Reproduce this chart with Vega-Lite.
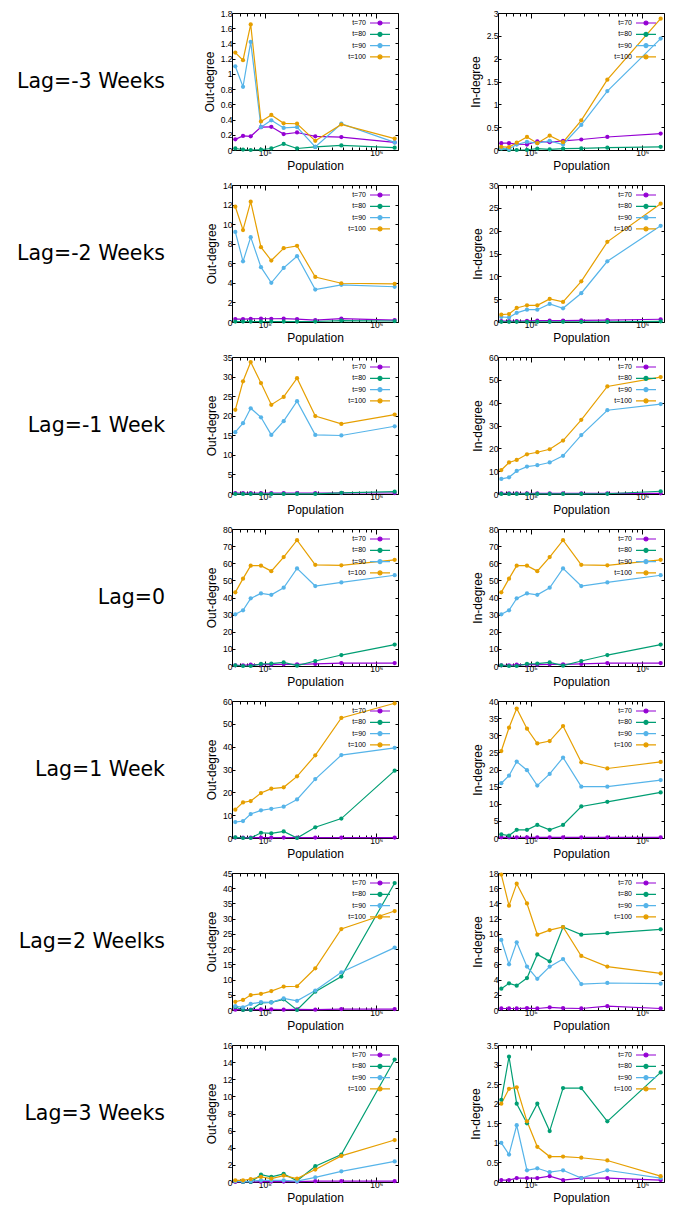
{
"$schema": "https://vega.github.io/schema/vega-lite/v6.json",
"padding": {"left": 17, "top": 8, "right": 5, "bottom": 5},
"background": "white",
"datasets": {"d": [
{"lag":"m3","side":"out","pop":54600,"t70":0.14,"t80":0.02,"t90":1.10,"t100":1.28},
{"lag":"m3","side":"out","pop":64000,"t70":0.185,"t80":0.005,"t90":0.83,"t100":1.18},
{"lag":"m3","side":"out","pop":75000,"t70":0.18,"t80":0,"t90":1.42,"t100":1.65},
{"lag":"m3","side":"out","pop":92700,"t70":0.30,"t80":0.005,"t90":0.30,"t100":0.375},
{"lag":"m3","side":"out","pop":114700,"t70":0.305,"t80":0.02,"t90":0.39,"t100":0.46},
{"lag":"m3","side":"out","pop":148000,"t70":0.21,"t80":0.08,"t90":0.29,"t100":0.35},
{"lag":"m3","side":"out","pop":195000,"t70":0.23,"t80":0.02,"t90":0.30,"t100":0.345},
{"lag":"m3","side":"out","pop":284000,"t70":0.18,"t80":0.04,"t90":0.04,"t100":0.12},
{"lag":"m3","side":"out","pop":486000,"t70":0.17,"t80":0.06,"t90":0.345,"t100":0.335},
{"lag":"m3","side":"out","pop":1459000,"t70":0.10,"t80":0.03,"t90":0.10,"t100":0.15},
{"lag":"m3","side":"in","pop":54600,"t70":0.15,"t80":0.03,"t90":0.04,"t100":0.07},
{"lag":"m3","side":"in","pop":64000,"t70":0.15,"t80":0,"t90":0.02,"t100":0.065},
{"lag":"m3","side":"in","pop":75000,"t70":0.13,"t80":0,"t90":0.12,"t100":0.16},
{"lag":"m3","side":"in","pop":92700,"t70":0.12,"t80":0.005,"t90":0.18,"t100":0.285},
{"lag":"m3","side":"in","pop":114700,"t70":0.19,"t80":0.03,"t90":0.15,"t100":0.15},
{"lag":"m3","side":"in","pop":148000,"t70":0.17,"t80":0.015,"t90":0.20,"t100":0.315},
{"lag":"m3","side":"in","pop":195000,"t70":0.20,"t80":0.03,"t90":0.12,"t100":0.17},
{"lag":"m3","side":"in","pop":284000,"t70":0.23,"t80":0.035,"t90":0.55,"t100":0.65},
{"lag":"m3","side":"in","pop":486000,"t70":0.285,"t80":0.05,"t90":1.29,"t100":1.54},
{"lag":"m3","side":"in","pop":1459000,"t70":0.36,"t80":0.07,"t90":2.44,"t100":2.875},
{"lag":"m2","side":"out","pop":54600,"t70":0.3,"t80":0.05,"t90":9.2,"t100":11.78},
{"lag":"m2","side":"out","pop":64000,"t70":0.3,"t80":0.05,"t90":6.2,"t100":9.4},
{"lag":"m2","side":"out","pop":75000,"t70":0.32,"t80":0.05,"t90":8.67,"t100":12.3},
{"lag":"m2","side":"out","pop":92700,"t70":0.35,"t80":0.05,"t90":5.6,"t100":7.65},
{"lag":"m2","side":"out","pop":114700,"t70":0.33,"t80":0.05,"t90":4.0,"t100":6.28},
{"lag":"m2","side":"out","pop":148000,"t70":0.35,"t80":0.05,"t90":5.53,"t100":7.54},
{"lag":"m2","side":"out","pop":195000,"t70":0.3,"t80":0.05,"t90":6.72,"t100":7.78},
{"lag":"m2","side":"out","pop":284000,"t70":0.2,"t80":0.05,"t90":3.31,"t100":4.6},
{"lag":"m2","side":"out","pop":486000,"t70":0.35,"t80":0.15,"t90":3.8,"t100":3.96},
{"lag":"m2","side":"out","pop":1459000,"t70":0.2,"t80":0.1,"t90":3.6,"t100":3.9},
{"lag":"m2","side":"in","pop":54600,"t70":0.2,"t80":0.05,"t90":1.1,"t100":1.6},
{"lag":"m2","side":"in","pop":64000,"t70":0.2,"t80":0.05,"t90":1.0,"t100":1.75},
{"lag":"m2","side":"in","pop":75000,"t70":0.2,"t80":0.05,"t90":2.0,"t100":3.07},
{"lag":"m2","side":"in","pop":92700,"t70":0.25,"t80":0.05,"t90":2.7,"t100":3.66},
{"lag":"m2","side":"in","pop":114700,"t70":0.3,"t80":0.05,"t90":2.7,"t100":3.66},
{"lag":"m2","side":"in","pop":148000,"t70":0.3,"t80":0.05,"t90":3.95,"t100":5.05},
{"lag":"m2","side":"in","pop":195000,"t70":0.3,"t80":0.05,"t90":3.0,"t100":4.4},
{"lag":"m2","side":"in","pop":284000,"t70":0.35,"t80":0.05,"t90":6.3,"t100":8.9},
{"lag":"m2","side":"in","pop":486000,"t70":0.4,"t80":0.05,"t90":13.3,"t100":17.56},
{"lag":"m2","side":"in","pop":1459000,"t70":0.6,"t80":0.15,"t90":21.07,"t100":25.9},
{"lag":"m1","side":"out","pop":54600,"t70":0.25,"t80":0.02,"t90":15.8,"t100":21.5},
{"lag":"m1","side":"out","pop":64000,"t70":0.25,"t80":0.02,"t90":18.1,"t100":28.8},
{"lag":"m1","side":"out","pop":75000,"t70":0.25,"t80":0.02,"t90":21.9,"t100":33.7},
{"lag":"m1","side":"out","pop":92700,"t70":0.25,"t80":0.02,"t90":19.6,"t100":28.35},
{"lag":"m1","side":"out","pop":114700,"t70":0.25,"t80":0.02,"t90":15.1,"t100":22.8},
{"lag":"m1","side":"out","pop":148000,"t70":0.25,"t80":0.02,"t90":18.6,"t100":24.8},
{"lag":"m1","side":"out","pop":195000,"t70":0.25,"t80":0.02,"t90":23.7,"t100":29.6},
{"lag":"m1","side":"out","pop":284000,"t70":0.25,"t80":0.02,"t90":15.1,"t100":19.9},
{"lag":"m1","side":"out","pop":486000,"t70":0.25,"t80":0.3,"t90":14.95,"t100":17.9},
{"lag":"m1","side":"out","pop":1459000,"t70":0.25,"t80":0.6,"t90":17.3,"t100":20.3},
{"lag":"m1","side":"in","pop":54600,"t70":0.3,"t80":0.02,"t90":6.6,"t100":10.5},
{"lag":"m1","side":"in","pop":64000,"t70":0.3,"t80":0.02,"t90":7.3,"t100":13.8},
{"lag":"m1","side":"in","pop":75000,"t70":0.3,"t80":0.02,"t90":10.1,"t100":14.9},
{"lag":"m1","side":"in","pop":92700,"t70":0.3,"t80":0.02,"t90":12.0,"t100":17.4},
{"lag":"m1","side":"in","pop":114700,"t70":0.3,"t80":0.02,"t90":12.6,"t100":18.3},
{"lag":"m1","side":"in","pop":148000,"t70":0.3,"t80":0.02,"t90":13.8,"t100":19.6},
{"lag":"m1","side":"in","pop":195000,"t70":0.3,"t80":0.02,"t90":16.7,"t100":23.4},
{"lag":"m1","side":"in","pop":284000,"t70":0.3,"t80":0.02,"t90":25.8,"t100":32.5},
{"lag":"m1","side":"in","pop":486000,"t70":0.3,"t80":0.1,"t90":36.7,"t100":47.1},
{"lag":"m1","side":"in","pop":1459000,"t70":0.3,"t80":1.2,"t90":39.4,"t100":51.2},
{"lag":"z","side":"both","pop":54600,"t70":0.4,"t80":0.4,"t90":30.2,"t100":43},
{"lag":"z","side":"both","pop":64000,"t70":0.4,"t80":0,"t90":32.5,"t100":51},
{"lag":"z","side":"both","pop":75000,"t70":0.8,"t80":0,"t90":39.5,"t100":58.6},
{"lag":"z","side":"both","pop":92700,"t70":0.8,"t80":1.2,"t90":42.4,"t100":58.6},
{"lag":"z","side":"both","pop":114700,"t70":0.8,"t80":1.4,"t90":41.6,"t100":55.4},
{"lag":"z","side":"both","pop":148000,"t70":1.0,"t80":2.1,"t90":45.7,"t100":63.6},
{"lag":"z","side":"both","pop":195000,"t70":1.0,"t80":0.2,"t90":57,"t100":73.5},
{"lag":"z","side":"both","pop":284000,"t70":1.2,"t80":2.9,"t90":46.7,"t100":59.1},
{"lag":"z","side":"both","pop":486000,"t70":1.7,"t80":6.4,"t90":48.8,"t100":58.8},
{"lag":"z","side":"both","pop":1459000,"t70":1.7,"t80":12.5,"t90":53,"t100":62},
{"lag":"p1","side":"out","pop":54600,"t70":0.2,"t80":0.3,"t90":7,"t100":12.4},
{"lag":"p1","side":"out","pop":64000,"t70":0.2,"t80":0,"t90":7.4,"t100":15.6},
{"lag":"p1","side":"out","pop":75000,"t70":0.2,"t80":0,"t90":10.5,"t100":16.2},
{"lag":"p1","side":"out","pop":92700,"t70":0.2,"t80":2.3,"t90":12.1,"t100":19.7},
{"lag":"p1","side":"out","pop":114700,"t70":0.2,"t80":2.0,"t90":12.8,"t100":21.6},
{"lag":"p1","side":"out","pop":148000,"t70":0.2,"t80":2.9,"t90":13.7,"t100":22.2},
{"lag":"p1","side":"out","pop":195000,"t70":0.2,"t80":0,"t90":16.9,"t100":27},
{"lag":"p1","side":"out","pop":284000,"t70":0.2,"t80":4.7,"t90":25.8,"t100":36.2},
{"lag":"p1","side":"out","pop":486000,"t70":0.2,"t80":8.5,"t90":36.3,"t100":52.6},
{"lag":"p1","side":"out","pop":1459000,"t70":0.2,"t80":29.5,"t90":39.5,"t100":59},
{"lag":"p1","side":"in","pop":54600,"t70":0.2,"t80":1.06,"t90":16,"t100":25.4},
{"lag":"p1","side":"in","pop":64000,"t70":0.2,"t80":0.7,"t90":18.2,"t100":32.2},
{"lag":"p1","side":"in","pop":75000,"t70":0.2,"t80":2.4,"t90":22.3,"t100":37.8},
{"lag":"p1","side":"in","pop":92700,"t70":0.2,"t80":2.4,"t90":19.8,"t100":31.9},
{"lag":"p1","side":"in","pop":114700,"t70":0.2,"t80":3.8,"t90":15.3,"t100":27.6},
{"lag":"p1","side":"in","pop":148000,"t70":0.2,"t80":2.4,"t90":18.7,"t100":28.3},
{"lag":"p1","side":"in","pop":195000,"t70":0.2,"t80":3.8,"t90":23.5,"t100":32.7},
{"lag":"p1","side":"in","pop":284000,"t70":0.2,"t80":9.2,"t90":15,"t100":22.1},
{"lag":"p1","side":"in","pop":486000,"t70":0.2,"t80":10.55,"t90":15,"t100":20.3},
{"lag":"p1","side":"in","pop":1459000,"t70":0.2,"t80":13.3,"t90":16.9,"t100":22.2},
{"lag":"p2","side":"out","pop":54600,"t70":0.1,"t80":1.0,"t90":1.3,"t100":2.7},
{"lag":"p2","side":"out","pop":64000,"t70":0.1,"t80":0,"t90":0.9,"t100":3.3},
{"lag":"p2","side":"out","pop":75000,"t70":0.1,"t80":0,"t90":2.0,"t100":4.9},
{"lag":"p2","side":"out","pop":92700,"t70":0.2,"t80":2.3,"t90":2.6,"t100":5.3},
{"lag":"p2","side":"out","pop":114700,"t70":0.2,"t80":2.5,"t90":2.5,"t100":6.2},
{"lag":"p2","side":"out","pop":148000,"t70":0.1,"t80":3.5,"t90":3.8,"t100":7.7},
{"lag":"p2","side":"out","pop":195000,"t70":0.2,"t80":0,"t90":3.0,"t100":7.8},
{"lag":"p2","side":"out","pop":284000,"t70":0.1,"t80":6.0,"t90":6.4,"t100":13.7},
{"lag":"p2","side":"out","pop":486000,"t70":0.3,"t80":11,"t90":12.4,"t100":26.6},
{"lag":"p2","side":"out","pop":1459000,"t70":0.3,"t80":41.7,"t90":20.5,"t100":32.5},
{"lag":"p2","side":"in","pop":54600,"t70":0.2,"t80":2.8,"t90":9.2,"t100":17.8},
{"lag":"p2","side":"in","pop":64000,"t70":0.2,"t80":3.5,"t90":6.0,"t100":13.7},
{"lag":"p2","side":"in","pop":75000,"t70":0.2,"t80":3.2,"t90":8.9,"t100":16.6},
{"lag":"p2","side":"in","pop":92700,"t70":0.25,"t80":4.2,"t90":5.7,"t100":14.0},
{"lag":"p2","side":"in","pop":114700,"t70":0.2,"t80":7.3,"t90":4.1,"t100":9.9},
{"lag":"p2","side":"in","pop":148000,"t70":0.35,"t80":6.4,"t90":5.7,"t100":10.5},
{"lag":"p2","side":"in","pop":195000,"t70":0.25,"t80":10.9,"t90":6.7,"t100":10.9},
{"lag":"p2","side":"in","pop":284000,"t70":0.2,"t80":9.9,"t90":3.4,"t100":7.1},
{"lag":"p2","side":"in","pop":486000,"t70":0.5,"t80":10.1,"t90":3.55,"t100":5.7},
{"lag":"p2","side":"in","pop":1459000,"t70":0.2,"t80":10.6,"t90":3.46,"t100":4.8},
{"lag":"p3","side":"out","pop":54600,"t70":0,"t80":0.1,"t90":0.1,"t100":0.2},
{"lag":"p3","side":"out","pop":64000,"t70":0,"t80":0,"t90":0.05,"t100":0.2},
{"lag":"p3","side":"out","pop":75000,"t70":0,"t80":0,"t90":0.1,"t100":0.35},
{"lag":"p3","side":"out","pop":92700,"t70":0.05,"t80":0.85,"t90":0.2,"t100":0.6},
{"lag":"p3","side":"out","pop":114700,"t70":0.05,"t80":0.6,"t90":0.2,"t100":0.4},
{"lag":"p3","side":"out","pop":148000,"t70":0.05,"t80":0.95,"t90":0.2,"t100":0.75},
{"lag":"p3","side":"out","pop":195000,"t70":0.05,"t80":0.15,"t90":0.1,"t100":0.4},
{"lag":"p3","side":"out","pop":284000,"t70":0.1,"t80":1.85,"t90":0.55,"t100":1.45},
{"lag":"p3","side":"out","pop":486000,"t70":0.1,"t80":3.2,"t90":1.25,"t100":3.05},
{"lag":"p3","side":"out","pop":1459000,"t70":0.1,"t80":14.3,"t90":2.4,"t100":4.9},
{"lag":"p3","side":"in","pop":54600,"t70":0.05,"t80":2.1,"t90":1.0,"t100":2.0},
{"lag":"p3","side":"in","pop":64000,"t70":0.05,"t80":3.2,"t90":0.7,"t100":2.38},
{"lag":"p3","side":"in","pop":75000,"t70":0.1,"t80":2.0,"t90":1.45,"t100":2.42},
{"lag":"p3","side":"in","pop":92700,"t70":0.1,"t80":1.5,"t90":0.3,"t100":1.55},
{"lag":"p3","side":"in","pop":114700,"t70":0.1,"t80":2.0,"t90":0.35,"t100":0.9},
{"lag":"p3","side":"in","pop":148000,"t70":0.15,"t80":1.3,"t90":0.25,"t100":0.65},
{"lag":"p3","side":"in","pop":195000,"t70":0.05,"t80":2.4,"t90":0.3,"t100":0.65},
{"lag":"p3","side":"in","pop":284000,"t70":0.1,"t80":2.4,"t90":0.1,"t100":0.62},
{"lag":"p3","side":"in","pop":486000,"t70":0.1,"t80":1.55,"t90":0.3,"t100":0.55},
{"lag":"p3","side":"in","pop":1459000,"t70":0.05,"t80":2.8,"t90":0.1,"t100":0.15}
]},
"data": {"name": "d"},
"spacing": 172,
"bounds": "flush",
"resolve": {"legend": {"color": "independent"}},
"vconcat": [
{"spacing": 0, "bounds": "flush", "resolve": {"legend": {"color": "independent"}}, "hconcat": [
 {"width":134,"height":137,"view":{"stroke":null},"data":{"values":[{"label":"Lag=-3 Weeks"}]},"mark":{"type":"text","align":"right","baseline":"middle","font":"DejaVu Sans","fontSize":20.5,"color":"black"},"encoding":{"text":{"field":"label"}}},
 {"spacing": 100, "bounds": "flush", "resolve": {"legend": {"color": "independent"}}, "hconcat": [
 {"width":166,"height":137,"transform":[{"filter":"datum.lag=='m3' && datum.side=='out'"},{"fold":["t70","t80","t90","t100"],"as":["t","v"]}],
  "encoding":{"color":{"field":"t","type":"nominal","scale":{"domain":["t70","t80","t90","t100"],"range":["#9400d3","#009e73","#56b4e9","#e69f00"]},"legend":{"title":null,"labelExpr":"'t=' + slice(datum.label,1)"}}},
  "resolve":{"axis":{"x":"independent","y":"independent"}},
  "layer":[
   {"mark":{"type":"line","strokeWidth":1.2},"encoding":{"x":{"field":"pop","type":"quantitative","title":"Population","scale":{"type":"log","domain":[51000,1563000]},"axis":{"values":[60000,70000,80000,90000,100000,200000,300000,400000,500000,600000,700000,800000,900000,1000000],"labelExpr":"datum.value==100000?'10⁵':(datum.value==1000000?'10⁶':'')","tickSize":{"condition":{"test":"datum.value==100000||datum.value==1000000","value":-5},"value":-3}}},"y":{"field":"v","type":"quantitative","title":"Out-degree","scale":{"domain":[0,1.8],"nice":false},"axis":{"values":[0,0.2,0.4,0.6,0.8,1,1.2,1.4,1.6,1.8]}}}},
   {"mark":{"type":"point","filled":true,"size":18,"opacity":1},"encoding":{"x":{"field":"pop","type":"quantitative","title":null,"scale":{"type":"log","domain":[51000,1563000]},"axis":{"orient":"top","labels":false,"values":[60000,70000,80000,90000,100000,200000,300000,400000,500000,600000,700000,800000,900000,1000000],"tickSize":{"condition":{"test":"datum.value==100000||datum.value==1000000","value":-5},"value":-3}}},"y":{"field":"v","type":"quantitative","title":null,"scale":{"domain":[0,1.8],"nice":false},"axis":{"orient":"right","labels":false,"values":[0,0.2,0.4,0.6,0.8,1,1.2,1.4,1.6,1.8]}}}}
  ]},
 {"width":166,"height":137,"transform":[{"filter":"datum.lag=='m3' && datum.side=='in'"},{"fold":["t70","t80","t90","t100"],"as":["t","v"]}],
  "encoding":{"color":{"field":"t","type":"nominal","scale":{"domain":["t70","t80","t90","t100"],"range":["#9400d3","#009e73","#56b4e9","#e69f00"]},"legend":{"title":null,"labelExpr":"'t=' + slice(datum.label,1)"}}},
  "resolve":{"axis":{"x":"independent","y":"independent"}},
  "layer":[
   {"mark":{"type":"line","strokeWidth":1.2},"encoding":{"x":{"field":"pop","type":"quantitative","title":"Population","scale":{"type":"log","domain":[51000,1563000]},"axis":{"values":[60000,70000,80000,90000,100000,200000,300000,400000,500000,600000,700000,800000,900000,1000000],"labelExpr":"datum.value==100000?'10⁵':(datum.value==1000000?'10⁶':'')","tickSize":{"condition":{"test":"datum.value==100000||datum.value==1000000","value":-5},"value":-3}}},"y":{"field":"v","type":"quantitative","title":"In-degree","scale":{"domain":[0,3],"nice":false},"axis":{"values":[0,0.5,1,1.5,2,2.5,3]}}}},
   {"mark":{"type":"point","filled":true,"size":18,"opacity":1},"encoding":{"x":{"field":"pop","type":"quantitative","title":null,"scale":{"type":"log","domain":[51000,1563000]},"axis":{"orient":"top","labels":false,"values":[60000,70000,80000,90000,100000,200000,300000,400000,500000,600000,700000,800000,900000,1000000],"tickSize":{"condition":{"test":"datum.value==100000||datum.value==1000000","value":-5},"value":-3}}},"y":{"field":"v","type":"quantitative","title":null,"scale":{"domain":[0,3],"nice":false},"axis":{"orient":"right","labels":false,"values":[0,0.5,1,1.5,2,2.5,3]}}}}
  ]}
 ]}
]},
{"spacing": 0, "bounds": "flush", "resolve": {"legend": {"color": "independent"}}, "hconcat": [
 {"width":134,"height":137,"view":{"stroke":null},"data":{"values":[{"label":"Lag=-2 Weeks"}]},"mark":{"type":"text","align":"right","baseline":"middle","font":"DejaVu Sans","fontSize":20.5,"color":"black"},"encoding":{"text":{"field":"label"}}},
 {"spacing": 100, "bounds": "flush", "resolve": {"legend": {"color": "independent"}}, "hconcat": [
 {"width":166,"height":137,"transform":[{"filter":"datum.lag=='m2' && datum.side=='out'"},{"fold":["t70","t80","t90","t100"],"as":["t","v"]}],
  "encoding":{"color":{"field":"t","type":"nominal","scale":{"domain":["t70","t80","t90","t100"],"range":["#9400d3","#009e73","#56b4e9","#e69f00"]},"legend":{"title":null,"labelExpr":"'t=' + slice(datum.label,1)"}}},
  "resolve":{"axis":{"x":"independent","y":"independent"}},
  "layer":[
   {"mark":{"type":"line","strokeWidth":1.2},"encoding":{"x":{"field":"pop","type":"quantitative","title":"Population","scale":{"type":"log","domain":[51000,1563000]},"axis":{"values":[60000,70000,80000,90000,100000,200000,300000,400000,500000,600000,700000,800000,900000,1000000],"labelExpr":"datum.value==100000?'10⁵':(datum.value==1000000?'10⁶':'')","tickSize":{"condition":{"test":"datum.value==100000||datum.value==1000000","value":-5},"value":-3}}},"y":{"field":"v","type":"quantitative","title":"Out-degree","scale":{"domain":[0,14],"nice":false},"axis":{"values":[0,2,4,6,8,10,12,14]}}}},
   {"mark":{"type":"point","filled":true,"size":18,"opacity":1},"encoding":{"x":{"field":"pop","type":"quantitative","title":null,"scale":{"type":"log","domain":[51000,1563000]},"axis":{"orient":"top","labels":false,"values":[60000,70000,80000,90000,100000,200000,300000,400000,500000,600000,700000,800000,900000,1000000],"tickSize":{"condition":{"test":"datum.value==100000||datum.value==1000000","value":-5},"value":-3}}},"y":{"field":"v","type":"quantitative","title":null,"scale":{"domain":[0,14],"nice":false},"axis":{"orient":"right","labels":false,"values":[0,2,4,6,8,10,12,14]}}}}
  ]},
 {"width":166,"height":137,"transform":[{"filter":"datum.lag=='m2' && datum.side=='in'"},{"fold":["t70","t80","t90","t100"],"as":["t","v"]}],
  "encoding":{"color":{"field":"t","type":"nominal","scale":{"domain":["t70","t80","t90","t100"],"range":["#9400d3","#009e73","#56b4e9","#e69f00"]},"legend":{"title":null,"labelExpr":"'t=' + slice(datum.label,1)"}}},
  "resolve":{"axis":{"x":"independent","y":"independent"}},
  "layer":[
   {"mark":{"type":"line","strokeWidth":1.2},"encoding":{"x":{"field":"pop","type":"quantitative","title":"Population","scale":{"type":"log","domain":[51000,1563000]},"axis":{"values":[60000,70000,80000,90000,100000,200000,300000,400000,500000,600000,700000,800000,900000,1000000],"labelExpr":"datum.value==100000?'10⁵':(datum.value==1000000?'10⁶':'')","tickSize":{"condition":{"test":"datum.value==100000||datum.value==1000000","value":-5},"value":-3}}},"y":{"field":"v","type":"quantitative","title":"In-degree","scale":{"domain":[0,30],"nice":false},"axis":{"values":[0,5,10,15,20,25,30]}}}},
   {"mark":{"type":"point","filled":true,"size":18,"opacity":1},"encoding":{"x":{"field":"pop","type":"quantitative","title":null,"scale":{"type":"log","domain":[51000,1563000]},"axis":{"orient":"top","labels":false,"values":[60000,70000,80000,90000,100000,200000,300000,400000,500000,600000,700000,800000,900000,1000000],"tickSize":{"condition":{"test":"datum.value==100000||datum.value==1000000","value":-5},"value":-3}}},"y":{"field":"v","type":"quantitative","title":null,"scale":{"domain":[0,30],"nice":false},"axis":{"orient":"right","labels":false,"values":[0,5,10,15,20,25,30]}}}}
  ]}
 ]}
]},
{"spacing": 0, "bounds": "flush", "resolve": {"legend": {"color": "independent"}}, "hconcat": [
 {"width":134,"height":137,"view":{"stroke":null},"data":{"values":[{"label":"Lag=-1 Week"}]},"mark":{"type":"text","align":"right","baseline":"middle","font":"DejaVu Sans","fontSize":20.5,"color":"black"},"encoding":{"text":{"field":"label"}}},
 {"spacing": 100, "bounds": "flush", "resolve": {"legend": {"color": "independent"}}, "hconcat": [
 {"width":166,"height":137,"transform":[{"filter":"datum.lag=='m1' && datum.side=='out'"},{"fold":["t70","t80","t90","t100"],"as":["t","v"]}],
  "encoding":{"color":{"field":"t","type":"nominal","scale":{"domain":["t70","t80","t90","t100"],"range":["#9400d3","#009e73","#56b4e9","#e69f00"]},"legend":{"title":null,"labelExpr":"'t=' + slice(datum.label,1)"}}},
  "resolve":{"axis":{"x":"independent","y":"independent"}},
  "layer":[
   {"mark":{"type":"line","strokeWidth":1.2},"encoding":{"x":{"field":"pop","type":"quantitative","title":"Population","scale":{"type":"log","domain":[51000,1563000]},"axis":{"values":[60000,70000,80000,90000,100000,200000,300000,400000,500000,600000,700000,800000,900000,1000000],"labelExpr":"datum.value==100000?'10⁵':(datum.value==1000000?'10⁶':'')","tickSize":{"condition":{"test":"datum.value==100000||datum.value==1000000","value":-5},"value":-3}}},"y":{"field":"v","type":"quantitative","title":"Out-degree","scale":{"domain":[0,35],"nice":false},"axis":{"values":[0,5,10,15,20,25,30,35]}}}},
   {"mark":{"type":"point","filled":true,"size":18,"opacity":1},"encoding":{"x":{"field":"pop","type":"quantitative","title":null,"scale":{"type":"log","domain":[51000,1563000]},"axis":{"orient":"top","labels":false,"values":[60000,70000,80000,90000,100000,200000,300000,400000,500000,600000,700000,800000,900000,1000000],"tickSize":{"condition":{"test":"datum.value==100000||datum.value==1000000","value":-5},"value":-3}}},"y":{"field":"v","type":"quantitative","title":null,"scale":{"domain":[0,35],"nice":false},"axis":{"orient":"right","labels":false,"values":[0,5,10,15,20,25,30,35]}}}}
  ]},
 {"width":166,"height":137,"transform":[{"filter":"datum.lag=='m1' && datum.side=='in'"},{"fold":["t70","t80","t90","t100"],"as":["t","v"]}],
  "encoding":{"color":{"field":"t","type":"nominal","scale":{"domain":["t70","t80","t90","t100"],"range":["#9400d3","#009e73","#56b4e9","#e69f00"]},"legend":{"title":null,"labelExpr":"'t=' + slice(datum.label,1)"}}},
  "resolve":{"axis":{"x":"independent","y":"independent"}},
  "layer":[
   {"mark":{"type":"line","strokeWidth":1.2},"encoding":{"x":{"field":"pop","type":"quantitative","title":"Population","scale":{"type":"log","domain":[51000,1563000]},"axis":{"values":[60000,70000,80000,90000,100000,200000,300000,400000,500000,600000,700000,800000,900000,1000000],"labelExpr":"datum.value==100000?'10⁵':(datum.value==1000000?'10⁶':'')","tickSize":{"condition":{"test":"datum.value==100000||datum.value==1000000","value":-5},"value":-3}}},"y":{"field":"v","type":"quantitative","title":"In-degree","scale":{"domain":[0,60],"nice":false},"axis":{"values":[0,10,20,30,40,50,60]}}}},
   {"mark":{"type":"point","filled":true,"size":18,"opacity":1},"encoding":{"x":{"field":"pop","type":"quantitative","title":null,"scale":{"type":"log","domain":[51000,1563000]},"axis":{"orient":"top","labels":false,"values":[60000,70000,80000,90000,100000,200000,300000,400000,500000,600000,700000,800000,900000,1000000],"tickSize":{"condition":{"test":"datum.value==100000||datum.value==1000000","value":-5},"value":-3}}},"y":{"field":"v","type":"quantitative","title":null,"scale":{"domain":[0,60],"nice":false},"axis":{"orient":"right","labels":false,"values":[0,10,20,30,40,50,60]}}}}
  ]}
 ]}
]},
{"spacing": 0, "bounds": "flush", "resolve": {"legend": {"color": "independent"}}, "hconcat": [
 {"width":134,"height":137,"view":{"stroke":null},"data":{"values":[{"label":"Lag=0"}]},"mark":{"type":"text","align":"right","baseline":"middle","font":"DejaVu Sans","fontSize":20.5,"color":"black"},"encoding":{"text":{"field":"label"}}},
 {"spacing": 100, "bounds": "flush", "resolve": {"legend": {"color": "independent"}}, "hconcat": [
 {"width":166,"height":137,"transform":[{"filter":"datum.lag=='z'"},{"fold":["t70","t80","t90","t100"],"as":["t","v"]}],
  "encoding":{"color":{"field":"t","type":"nominal","scale":{"domain":["t70","t80","t90","t100"],"range":["#9400d3","#009e73","#56b4e9","#e69f00"]},"legend":{"title":null,"labelExpr":"'t=' + slice(datum.label,1)"}}},
  "resolve":{"axis":{"x":"independent","y":"independent"}},
  "layer":[
   {"mark":{"type":"line","strokeWidth":1.2},"encoding":{"x":{"field":"pop","type":"quantitative","title":"Population","scale":{"type":"log","domain":[51000,1563000]},"axis":{"values":[60000,70000,80000,90000,100000,200000,300000,400000,500000,600000,700000,800000,900000,1000000],"labelExpr":"datum.value==100000?'10⁵':(datum.value==1000000?'10⁶':'')","tickSize":{"condition":{"test":"datum.value==100000||datum.value==1000000","value":-5},"value":-3}}},"y":{"field":"v","type":"quantitative","title":"Out-degree","scale":{"domain":[0,80],"nice":false},"axis":{"values":[0,10,20,30,40,50,60,70,80]}}}},
   {"mark":{"type":"point","filled":true,"size":18,"opacity":1},"encoding":{"x":{"field":"pop","type":"quantitative","title":null,"scale":{"type":"log","domain":[51000,1563000]},"axis":{"orient":"top","labels":false,"values":[60000,70000,80000,90000,100000,200000,300000,400000,500000,600000,700000,800000,900000,1000000],"tickSize":{"condition":{"test":"datum.value==100000||datum.value==1000000","value":-5},"value":-3}}},"y":{"field":"v","type":"quantitative","title":null,"scale":{"domain":[0,80],"nice":false},"axis":{"orient":"right","labels":false,"values":[0,10,20,30,40,50,60,70,80]}}}}
  ]},
 {"width":166,"height":137,"transform":[{"filter":"datum.lag=='z'"},{"fold":["t70","t80","t90","t100"],"as":["t","v"]}],
  "encoding":{"color":{"field":"t","type":"nominal","scale":{"domain":["t70","t80","t90","t100"],"range":["#9400d3","#009e73","#56b4e9","#e69f00"]},"legend":{"title":null,"labelExpr":"'t=' + slice(datum.label,1)"}}},
  "resolve":{"axis":{"x":"independent","y":"independent"}},
  "layer":[
   {"mark":{"type":"line","strokeWidth":1.2},"encoding":{"x":{"field":"pop","type":"quantitative","title":"Population","scale":{"type":"log","domain":[51000,1563000]},"axis":{"values":[60000,70000,80000,90000,100000,200000,300000,400000,500000,600000,700000,800000,900000,1000000],"labelExpr":"datum.value==100000?'10⁵':(datum.value==1000000?'10⁶':'')","tickSize":{"condition":{"test":"datum.value==100000||datum.value==1000000","value":-5},"value":-3}}},"y":{"field":"v","type":"quantitative","title":"In-degree","scale":{"domain":[0,80],"nice":false},"axis":{"values":[0,10,20,30,40,50,60,70,80]}}}},
   {"mark":{"type":"point","filled":true,"size":18,"opacity":1},"encoding":{"x":{"field":"pop","type":"quantitative","title":null,"scale":{"type":"log","domain":[51000,1563000]},"axis":{"orient":"top","labels":false,"values":[60000,70000,80000,90000,100000,200000,300000,400000,500000,600000,700000,800000,900000,1000000],"tickSize":{"condition":{"test":"datum.value==100000||datum.value==1000000","value":-5},"value":-3}}},"y":{"field":"v","type":"quantitative","title":null,"scale":{"domain":[0,80],"nice":false},"axis":{"orient":"right","labels":false,"values":[0,10,20,30,40,50,60,70,80]}}}}
  ]}
 ]}
]},
{"spacing": 0, "bounds": "flush", "resolve": {"legend": {"color": "independent"}}, "hconcat": [
 {"width":134,"height":137,"view":{"stroke":null},"data":{"values":[{"label":"Lag=1 Week"}]},"mark":{"type":"text","align":"right","baseline":"middle","font":"DejaVu Sans","fontSize":20.5,"color":"black"},"encoding":{"text":{"field":"label"}}},
 {"spacing": 100, "bounds": "flush", "resolve": {"legend": {"color": "independent"}}, "hconcat": [
 {"width":166,"height":137,"transform":[{"filter":"datum.lag=='p1' && datum.side=='out'"},{"fold":["t70","t80","t90","t100"],"as":["t","v"]}],
  "encoding":{"color":{"field":"t","type":"nominal","scale":{"domain":["t70","t80","t90","t100"],"range":["#9400d3","#009e73","#56b4e9","#e69f00"]},"legend":{"title":null,"labelExpr":"'t=' + slice(datum.label,1)"}}},
  "resolve":{"axis":{"x":"independent","y":"independent"}},
  "layer":[
   {"mark":{"type":"line","strokeWidth":1.2},"encoding":{"x":{"field":"pop","type":"quantitative","title":"Population","scale":{"type":"log","domain":[51000,1563000]},"axis":{"values":[60000,70000,80000,90000,100000,200000,300000,400000,500000,600000,700000,800000,900000,1000000],"labelExpr":"datum.value==100000?'10⁵':(datum.value==1000000?'10⁶':'')","tickSize":{"condition":{"test":"datum.value==100000||datum.value==1000000","value":-5},"value":-3}}},"y":{"field":"v","type":"quantitative","title":"Out-degree","scale":{"domain":[0,60],"nice":false},"axis":{"values":[0,10,20,30,40,50,60]}}}},
   {"mark":{"type":"point","filled":true,"size":18,"opacity":1},"encoding":{"x":{"field":"pop","type":"quantitative","title":null,"scale":{"type":"log","domain":[51000,1563000]},"axis":{"orient":"top","labels":false,"values":[60000,70000,80000,90000,100000,200000,300000,400000,500000,600000,700000,800000,900000,1000000],"tickSize":{"condition":{"test":"datum.value==100000||datum.value==1000000","value":-5},"value":-3}}},"y":{"field":"v","type":"quantitative","title":null,"scale":{"domain":[0,60],"nice":false},"axis":{"orient":"right","labels":false,"values":[0,10,20,30,40,50,60]}}}}
  ]},
 {"width":166,"height":137,"transform":[{"filter":"datum.lag=='p1' && datum.side=='in'"},{"fold":["t70","t80","t90","t100"],"as":["t","v"]}],
  "encoding":{"color":{"field":"t","type":"nominal","scale":{"domain":["t70","t80","t90","t100"],"range":["#9400d3","#009e73","#56b4e9","#e69f00"]},"legend":{"title":null,"labelExpr":"'t=' + slice(datum.label,1)"}}},
  "resolve":{"axis":{"x":"independent","y":"independent"}},
  "layer":[
   {"mark":{"type":"line","strokeWidth":1.2},"encoding":{"x":{"field":"pop","type":"quantitative","title":"Population","scale":{"type":"log","domain":[51000,1563000]},"axis":{"values":[60000,70000,80000,90000,100000,200000,300000,400000,500000,600000,700000,800000,900000,1000000],"labelExpr":"datum.value==100000?'10⁵':(datum.value==1000000?'10⁶':'')","tickSize":{"condition":{"test":"datum.value==100000||datum.value==1000000","value":-5},"value":-3}}},"y":{"field":"v","type":"quantitative","title":"In-degree","scale":{"domain":[0,40],"nice":false},"axis":{"values":[0,5,10,15,20,25,30,35,40]}}}},
   {"mark":{"type":"point","filled":true,"size":18,"opacity":1},"encoding":{"x":{"field":"pop","type":"quantitative","title":null,"scale":{"type":"log","domain":[51000,1563000]},"axis":{"orient":"top","labels":false,"values":[60000,70000,80000,90000,100000,200000,300000,400000,500000,600000,700000,800000,900000,1000000],"tickSize":{"condition":{"test":"datum.value==100000||datum.value==1000000","value":-5},"value":-3}}},"y":{"field":"v","type":"quantitative","title":null,"scale":{"domain":[0,40],"nice":false},"axis":{"orient":"right","labels":false,"values":[0,5,10,15,20,25,30,35,40]}}}}
  ]}
 ]}
]},
{"spacing": 0, "bounds": "flush", "resolve": {"legend": {"color": "independent"}}, "hconcat": [
 {"width":134,"height":137,"view":{"stroke":null},"data":{"values":[{"label":"Lag=2 Weelks"}]},"mark":{"type":"text","align":"right","baseline":"middle","font":"DejaVu Sans","fontSize":20.5,"color":"black"},"encoding":{"text":{"field":"label"}}},
 {"spacing": 100, "bounds": "flush", "resolve": {"legend": {"color": "independent"}}, "hconcat": [
 {"width":166,"height":137,"transform":[{"filter":"datum.lag=='p2' && datum.side=='out'"},{"fold":["t70","t80","t90","t100"],"as":["t","v"]}],
  "encoding":{"color":{"field":"t","type":"nominal","scale":{"domain":["t70","t80","t90","t100"],"range":["#9400d3","#009e73","#56b4e9","#e69f00"]},"legend":{"title":null,"labelExpr":"'t=' + slice(datum.label,1)"}}},
  "resolve":{"axis":{"x":"independent","y":"independent"}},
  "layer":[
   {"mark":{"type":"line","strokeWidth":1.2},"encoding":{"x":{"field":"pop","type":"quantitative","title":"Population","scale":{"type":"log","domain":[51000,1563000]},"axis":{"values":[60000,70000,80000,90000,100000,200000,300000,400000,500000,600000,700000,800000,900000,1000000],"labelExpr":"datum.value==100000?'10⁵':(datum.value==1000000?'10⁶':'')","tickSize":{"condition":{"test":"datum.value==100000||datum.value==1000000","value":-5},"value":-3}}},"y":{"field":"v","type":"quantitative","title":"Out-degree","scale":{"domain":[0,45],"nice":false},"axis":{"values":[0,5,10,15,20,25,30,35,40,45]}}}},
   {"mark":{"type":"point","filled":true,"size":18,"opacity":1},"encoding":{"x":{"field":"pop","type":"quantitative","title":null,"scale":{"type":"log","domain":[51000,1563000]},"axis":{"orient":"top","labels":false,"values":[60000,70000,80000,90000,100000,200000,300000,400000,500000,600000,700000,800000,900000,1000000],"tickSize":{"condition":{"test":"datum.value==100000||datum.value==1000000","value":-5},"value":-3}}},"y":{"field":"v","type":"quantitative","title":null,"scale":{"domain":[0,45],"nice":false},"axis":{"orient":"right","labels":false,"values":[0,5,10,15,20,25,30,35,40,45]}}}}
  ]},
 {"width":166,"height":137,"transform":[{"filter":"datum.lag=='p2' && datum.side=='in'"},{"fold":["t70","t80","t90","t100"],"as":["t","v"]}],
  "encoding":{"color":{"field":"t","type":"nominal","scale":{"domain":["t70","t80","t90","t100"],"range":["#9400d3","#009e73","#56b4e9","#e69f00"]},"legend":{"title":null,"labelExpr":"'t=' + slice(datum.label,1)"}}},
  "resolve":{"axis":{"x":"independent","y":"independent"}},
  "layer":[
   {"mark":{"type":"line","strokeWidth":1.2},"encoding":{"x":{"field":"pop","type":"quantitative","title":"Population","scale":{"type":"log","domain":[51000,1563000]},"axis":{"values":[60000,70000,80000,90000,100000,200000,300000,400000,500000,600000,700000,800000,900000,1000000],"labelExpr":"datum.value==100000?'10⁵':(datum.value==1000000?'10⁶':'')","tickSize":{"condition":{"test":"datum.value==100000||datum.value==1000000","value":-5},"value":-3}}},"y":{"field":"v","type":"quantitative","title":"In-degree","scale":{"domain":[0,18],"nice":false},"axis":{"values":[0,2,4,6,8,10,12,14,16,18]}}}},
   {"mark":{"type":"point","filled":true,"size":18,"opacity":1},"encoding":{"x":{"field":"pop","type":"quantitative","title":null,"scale":{"type":"log","domain":[51000,1563000]},"axis":{"orient":"top","labels":false,"values":[60000,70000,80000,90000,100000,200000,300000,400000,500000,600000,700000,800000,900000,1000000],"tickSize":{"condition":{"test":"datum.value==100000||datum.value==1000000","value":-5},"value":-3}}},"y":{"field":"v","type":"quantitative","title":null,"scale":{"domain":[0,18],"nice":false},"axis":{"orient":"right","labels":false,"values":[0,2,4,6,8,10,12,14,16,18]}}}}
  ]}
 ]}
]},
{"spacing": 0, "bounds": "flush", "resolve": {"legend": {"color": "independent"}}, "hconcat": [
 {"width":134,"height":137,"view":{"stroke":null},"data":{"values":[{"label":"Lag=3 Weeks"}]},"mark":{"type":"text","align":"right","baseline":"middle","font":"DejaVu Sans","fontSize":20.5,"color":"black"},"encoding":{"text":{"field":"label"}}},
 {"spacing": 100, "bounds": "flush", "resolve": {"legend": {"color": "independent"}}, "hconcat": [
 {"width":166,"height":137,"transform":[{"filter":"datum.lag=='p3' && datum.side=='out'"},{"fold":["t70","t80","t90","t100"],"as":["t","v"]}],
  "encoding":{"color":{"field":"t","type":"nominal","scale":{"domain":["t70","t80","t90","t100"],"range":["#9400d3","#009e73","#56b4e9","#e69f00"]},"legend":{"title":null,"labelExpr":"'t=' + slice(datum.label,1)"}}},
  "resolve":{"axis":{"x":"independent","y":"independent"}},
  "layer":[
   {"mark":{"type":"line","strokeWidth":1.2},"encoding":{"x":{"field":"pop","type":"quantitative","title":"Population","scale":{"type":"log","domain":[51000,1563000]},"axis":{"values":[60000,70000,80000,90000,100000,200000,300000,400000,500000,600000,700000,800000,900000,1000000],"labelExpr":"datum.value==100000?'10⁵':(datum.value==1000000?'10⁶':'')","tickSize":{"condition":{"test":"datum.value==100000||datum.value==1000000","value":-5},"value":-3}}},"y":{"field":"v","type":"quantitative","title":"Out-degree","scale":{"domain":[0,16],"nice":false},"axis":{"values":[0,2,4,6,8,10,12,14,16]}}}},
   {"mark":{"type":"point","filled":true,"size":18,"opacity":1},"encoding":{"x":{"field":"pop","type":"quantitative","title":null,"scale":{"type":"log","domain":[51000,1563000]},"axis":{"orient":"top","labels":false,"values":[60000,70000,80000,90000,100000,200000,300000,400000,500000,600000,700000,800000,900000,1000000],"tickSize":{"condition":{"test":"datum.value==100000||datum.value==1000000","value":-5},"value":-3}}},"y":{"field":"v","type":"quantitative","title":null,"scale":{"domain":[0,16],"nice":false},"axis":{"orient":"right","labels":false,"values":[0,2,4,6,8,10,12,14,16]}}}}
  ]},
 {"width":166,"height":137,"transform":[{"filter":"datum.lag=='p3' && datum.side=='in'"},{"fold":["t70","t80","t90","t100"],"as":["t","v"]}],
  "encoding":{"color":{"field":"t","type":"nominal","scale":{"domain":["t70","t80","t90","t100"],"range":["#9400d3","#009e73","#56b4e9","#e69f00"]},"legend":{"title":null,"labelExpr":"'t=' + slice(datum.label,1)"}}},
  "resolve":{"axis":{"x":"independent","y":"independent"}},
  "layer":[
   {"mark":{"type":"line","strokeWidth":1.2},"encoding":{"x":{"field":"pop","type":"quantitative","title":"Population","scale":{"type":"log","domain":[51000,1563000]},"axis":{"values":[60000,70000,80000,90000,100000,200000,300000,400000,500000,600000,700000,800000,900000,1000000],"labelExpr":"datum.value==100000?'10⁵':(datum.value==1000000?'10⁶':'')","tickSize":{"condition":{"test":"datum.value==100000||datum.value==1000000","value":-5},"value":-3}}},"y":{"field":"v","type":"quantitative","title":"In-degree","scale":{"domain":[0,3.5],"nice":false},"axis":{"values":[0,0.5,1,1.5,2,2.5,3,3.5]}}}},
   {"mark":{"type":"point","filled":true,"size":18,"opacity":1},"encoding":{"x":{"field":"pop","type":"quantitative","title":null,"scale":{"type":"log","domain":[51000,1563000]},"axis":{"orient":"top","labels":false,"values":[60000,70000,80000,90000,100000,200000,300000,400000,500000,600000,700000,800000,900000,1000000],"tickSize":{"condition":{"test":"datum.value==100000||datum.value==1000000","value":-5},"value":-3}}},"y":{"field":"v","type":"quantitative","title":null,"scale":{"domain":[0,3.5],"nice":false},"axis":{"orient":"right","labels":false,"values":[0,0.5,1,1.5,2,2.5,3,3.5]}}}}
  ]}
 ]}
]}
],
"config": {
 "font": "Liberation Sans",
 "view": {"stroke": "black", "strokeWidth": 1},
 "axis": {"grid": false, "domain": false, "ticks": true, "tickColor": "black", "tickSize": -3, "labelFontSize": 8.5, "labelColor": "black", "labelPadding": 3, "titleFontSize": 12, "titleFontWeight": "normal", "titleColor": "black", "labelFont": "Liberation Sans", "titleFont": "Liberation Sans"},
 "axisX": {"titlePadding": 2, "labelOverlap": false, "labelFlush": false},
 "axisY": {"titlePadding": 4, "format": ".2~f"},
 "legend": {"orient": "top-right", "offset": 5, "padding": 0, "labelFontSize": 7, "labelFont": "Liberation Sans", "labelColor": "black", "symbolType": "M-2.5,0L2.5,0M0.5,0A0.5,0.5,0,1,1,-0.5,0A0.5,0.5,0,1,1,0.5,0Z", "symbolSize": 64, "symbolStrokeWidth": 1.2, "labelAlign": "right", "labelOffset": -19, "rowPadding": 1.3}
}
}
